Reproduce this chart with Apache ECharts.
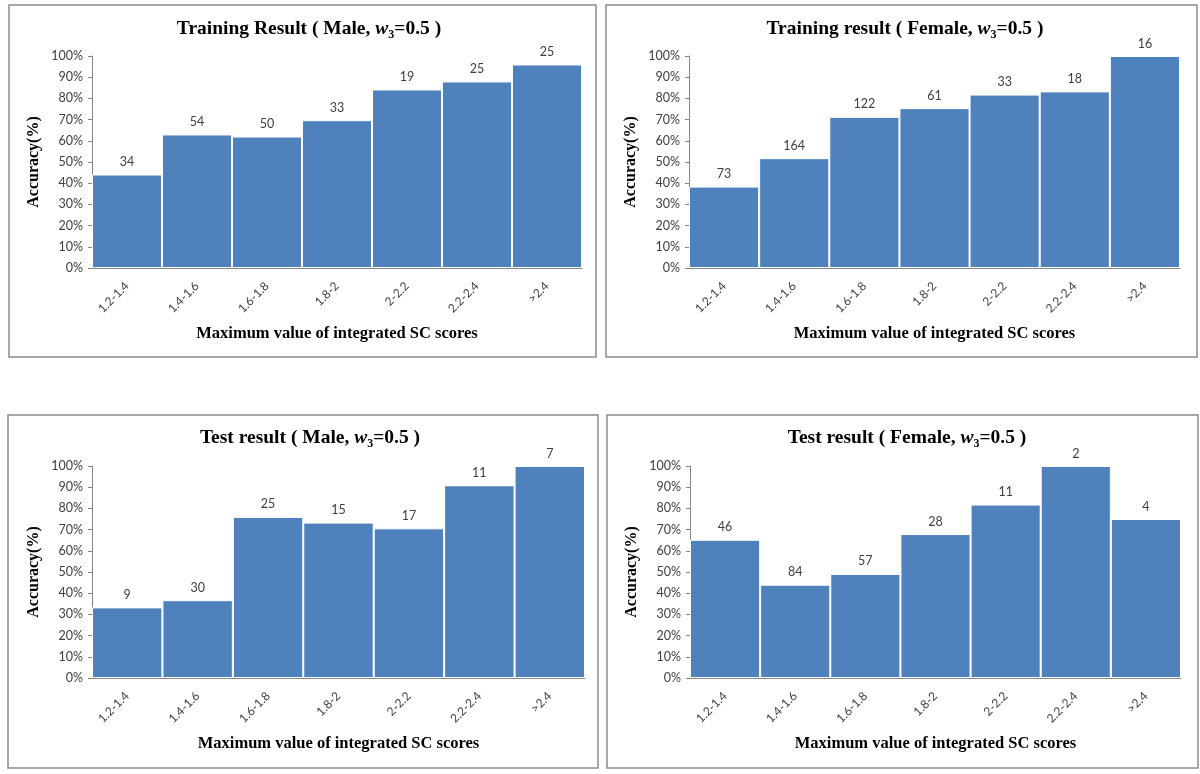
<!DOCTYPE html>
<html>
<head>
<meta charset="utf-8">
<script src="https://cdn.jsdelivr.net/npm/echarts@6/dist/echarts.min.js"></script>
<style>
  html, body { margin: 0; padding: 0; background: #fff; }
  #main { width: 1200px; height: 774px; }
</style>
</head>
<body>
<div id="main"></div>
<script>
var categories = ['1.2-1.4', '1.4-1.6', '1.6-1.8', '1.8-2', '2-2.2', '2.2-2.4', '>2.4'];
var yTicks = [0, 10, 20, 30, 40, 50, 60, 70, 80, 90, 100];

// accuracy (%) and sample counts shown above the bars
var trainMaleAcc = [44.1, 63.0, 62.0, 69.7, 84.2, 88.0, 96.0];
var trainMaleN = [34, 54, 50, 33, 19, 25, 25];
var trainFemaleAcc = [38.4, 51.8, 71.3, 75.4, 81.8, 83.3, 100];
var trainFemaleN = [73, 164, 122, 61, 33, 18, 16];
var testMaleAcc = [33.3, 36.7, 76.0, 73.3, 70.6, 90.9, 100];
var testMaleN = [9, 30, 25, 15, 17, 11, 7];
var testFemaleAcc = [65.2, 44.0, 49.1, 67.9, 81.8, 100, 75];
var testFemaleN = [46, 84, 57, 28, 11, 2, 4];

var panels = [
    { pre: 'Training Result ( Male, ', acc: trainMaleAcc, n: trainMaleN,
      box: [9, 5, 587, 352], grid: [92, 56, 490, 212], titleX: 304, titleY: 24 },
    { pre: 'Training result ( Female, ', acc: trainFemaleAcc, n: trainFemaleN,
      box: [606, 5, 591, 352], grid: [689, 56, 491, 212], titleX: 900, titleY: 24 },
    { pre: 'Test result ( Male, ', acc: testMaleAcc, n: testMaleN,
      box: [8, 415, 590, 353], grid: [92, 466, 493, 212], titleX: 305, titleY: 433 },
    { pre: 'Test result ( Female, ', acc: testFemaleAcc, n: testFemaleN,
      box: [607, 415, 591, 353], grid: [690, 466, 491, 212], titleX: 902, titleY: 433 }
];

var serif = 'Liberation Serif';
var sans = 'Lato';
var barColor = '#4f81bd';
var axisColor = '#868686';

var titles = [], grids = [], xAxes = [], yAxes = [], series = [], boxes = [];

panels.forEach(function (p, i) {
    boxes.push({
        type: 'rect',
        shape: { x: p.box[0], y: p.box[1], width: p.box[2], height: p.box[3] },
        style: { fill: 'none', stroke: '#8c8c8c', lineWidth: 1.5 },
        z: 0
    });
    titles.push({
        text: '{b|' + p.pre + '}{i|w}{s|3}{b|=0.5 )}',
        left: p.titleX,
        top: p.titleY,
        textAlign: 'center',
        textVerticalAlign: 'middle',
        textStyle: {
            rich: {
                b: { fontFamily: serif, fontWeight: 'bold', fontSize: 19.5, color: '#000', lineHeight: 23 },
                i: { fontFamily: serif, fontWeight: 'bold', fontStyle: 'italic', fontSize: 19.5, color: '#000', lineHeight: 23 },
                s: { fontFamily: serif, fontWeight: 'bold', fontSize: 12, color: '#000', lineHeight: 12, verticalAlign: 'bottom' }
            }
        }
    });
    grids.push({ left: p.grid[0], top: p.grid[1], width: p.grid[2], height: p.grid[3] });
    xAxes.push({
        type: 'category',
        gridIndex: i,
        data: categories,
        name: 'Maximum value of integrated SC scores',
        nameLocation: 'middle',
        nameGap: 57,
        nameTextStyle: { fontFamily: serif, fontWeight: 'bold', fontSize: 16.5, color: '#000' },
        axisLine: { lineStyle: { color: axisColor, width: 1 } },
        axisTick: { show: false },
        axisLabel: { rotate: 45, fontFamily: sans, fontSize: 12, color: '#404040', margin: 16, interval: 0 }
    });
    yAxes.push({
        type: 'value',
        gridIndex: i,
        min: yTicks[0],
        max: yTicks[yTicks.length - 1],
        interval: yTicks[1] - yTicks[0],
        name: 'Accuracy(%)',
        nameLocation: 'middle',
        nameGap: 50,
        nameTextStyle: { fontFamily: serif, fontWeight: 'bold', fontSize: 16, color: '#000' },
        axisLine: { show: true, lineStyle: { color: axisColor, width: 1 } },
        axisTick: { show: true, length: 4, lineStyle: { color: axisColor } },
        splitLine: { show: false },
        axisLabel: { formatter: '{value}%', fontFamily: sans, fontSize: 12.5, color: '#404040', margin: 9 }
    });
    series.push({
        type: 'bar',
        xAxisIndex: i,
        yAxisIndex: i,
        barCategoryGap: '0%',
        data: p.acc.map(function (v, k) { return { value: v, count: p.n[k] }; }),
        itemStyle: { color: barColor, borderColor: '#fff', borderWidth: 1 },
        label: {
            show: true,
            position: 'top',
            distance: 6,
            fontFamily: sans,
            fontSize: 12.5,
            color: '#404040',
            formatter: function (d) { return d.data.count; }
        },
        animation: false
    });
});

var myChart = echarts.init(document.getElementById('main'));
var option = {
    animation: false,
    backgroundColor: '#fff',
    title: titles,
    grid: grids,
    xAxis: xAxes,
    yAxis: yAxes,
    series: series,
    graphic: boxes
};
option && myChart.setOption(option);
</script>
</body>
</html>
